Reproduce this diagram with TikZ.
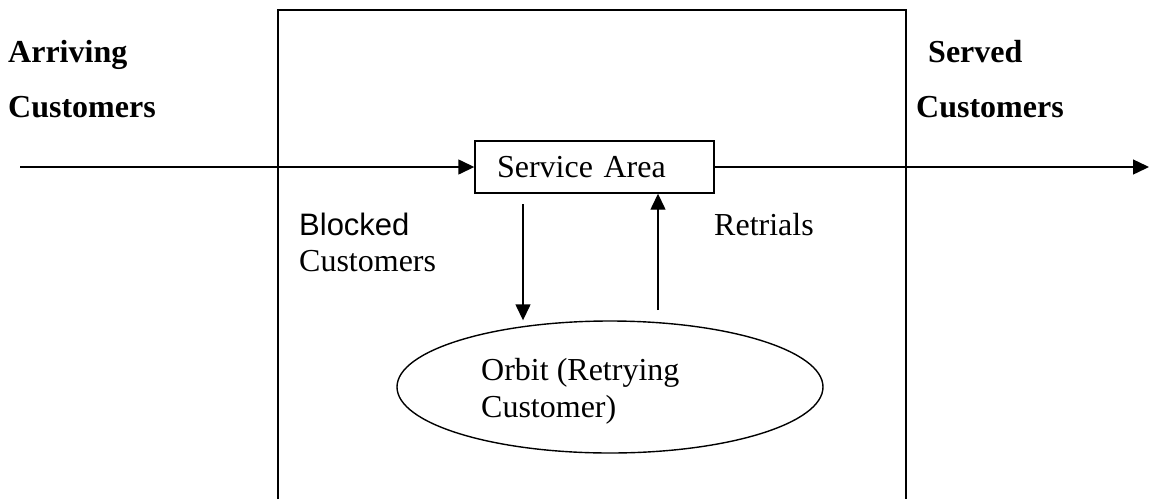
\documentclass[tikz,border=0pt]{standalone}
\usepackage{fontspec}
\setmainfont{Liberation Serif}
\newfontfamily\arialfont{Liberation Sans}
\usetikzlibrary{arrows.meta,shapes.geometric}
\tikzset{
  lbl/.style={anchor=base west,inner sep=0pt,font=\fontsize{32}{37}\selectfont},
  blbl/.style={lbl,font=\fontsize{32}{37}\selectfont\bfseries},
  arr/.style={line width=1.4pt,-{Triangle[length=16pt,width=15pt]}},
  frame/.style={line width=2pt},
}
\begin{document}
\begin{tikzpicture}[x=1pt,y=-1pt]
\useasboundingbox (0,0) rectangle (1149,499);
% outer system box (bottom runs off the picture)
\draw[frame] (278,499) -- (278,10) -- (906,10) -- (906,499);
% service area
\node[draw,line width=1.4pt,rectangle,inner xsep=22pt,inner ysep=0pt,text width=195pt,minimum height=52pt,align=left,font=\fontsize{32}{37}\selectfont] (sa) at (594.5,167) {Service Area};
% orbit
\node[draw,line width=1.4pt,ellipse,minimum width=426pt,minimum height=132pt,inner sep=0pt] (orbit) at (610,387) {};
\node[lbl] (orbittext) at (481,380) {Orbit (Retrying};
\node[lbl] (orbittext2) at (481,417) {Customer)};
% labels
\node[blbl] (arr1) at (8,62) {Arriving};
\node[blbl] (arr2) at (8,117) {Customers};
\node[blbl] (srv1) at (928,62) {Served};
\node[blbl] (srv2) at (916,117) {Customers};
\node[lbl,font=\fontsize{31}{36}\arialfont] (blk1) at (299,235) {Blocked};
\node[lbl] (blk2) at (299,271) {Customers};
\node[lbl] (ret) at (714,235) {Retrials};
% connectors
\coordinate (in) at (20,167);
\coordinate (out) at (1149,167);
\coordinate (d1) at (523,204);
\coordinate (u1) at (658,310);
\draw[arr] (in) -- (sa.west);
\draw[arr] (sa.east) -- (out);
\draw[arr] (d1) -- (d1 |- orbit.north);
\draw[arr] (u1) -- (u1 |- sa.south);
\end{tikzpicture}
\end{document}
